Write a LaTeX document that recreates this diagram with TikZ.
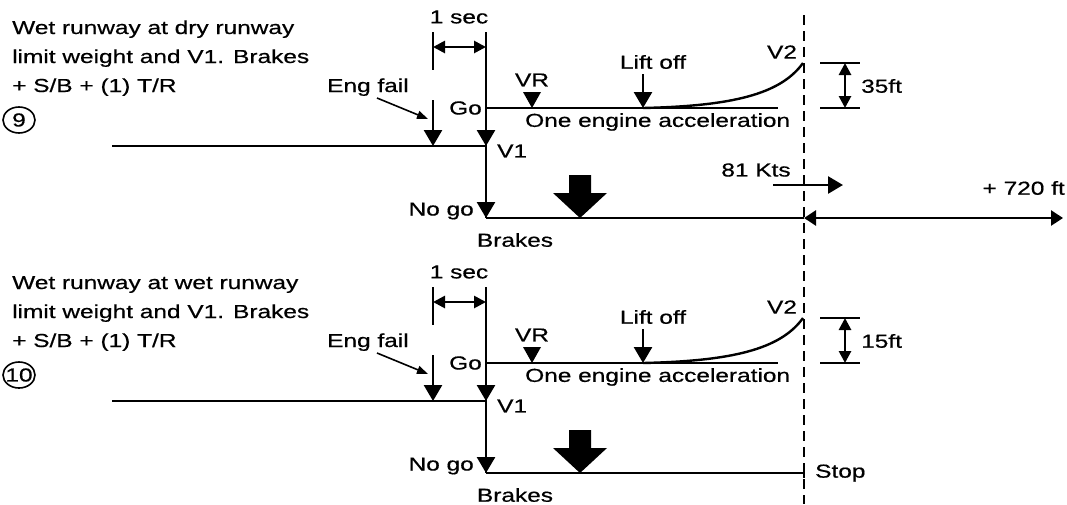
\documentclass[tikz,border=0pt]{standalone}
\usepackage{fontspec}
\setmainfont[FakeStretch=1.3,FakeBold=0.6]{Liberation Sans}
\usetikzlibrary{arrows.meta}
\tikzset{
  line/.style={line width=2.7pt},
  lbl/.style={inner sep=0pt, font=\fontsize{18.8}{29}\selectfont},
  bigtip/.style={-{Triangle[width=18pt,length=16pt]}},
  dimtips/.style={{Triangle[width=12pt,length=12pt]}-{Triangle[width=12pt,length=12pt]}},
  midtip/.style={-{Triangle[width=17pt,length=15pt]}},
  thintip/.style={line width=1.6pt,-{Triangle[width=8pt,length=11pt]}},
}
\newcommand{\chartbase}[3]{%
  % description
  \node[lbl,anchor=base west] (t1) at (12,34) {#1};
  \node[lbl,anchor=base west] (t2) at (12,63) {limit weight and V1. Brakes};
  \node[lbl,anchor=base west] (t3) at (12,92) {+ S/B + (1) T/R};
  \draw[line width=1.6pt] (19,120) ellipse [x radius=16, y radius=13];
  \node[lbl] (num) at (19,120) {#2};
  % main run
  \coordinate (ms) at (112,146);
  \coordinate (v1) at (486,146);
  \coordinate (vtop) at (486,32);
  \coordinate (nogo) at (486,218);
  \draw[line] (ms) -- (v1);
  \draw[line] (vtop) -- (nogo);
  \coordinate (v1a) at (486,124);
  \draw[line,bigtip] (v1a) -- (v1);
  \coordinate (efa) at (433,100);
  \coordinate (ef) at (433,146);
  \draw[line,bigtip] (efa) -- (ef);
  % 1 sec
  \coordinate (st) at (433,32);
  \coordinate (sb) at (433,70);
  \draw[line] (st) -- (sb);
  \coordinate (sl) at (433,47);
  \coordinate (sr) at (486,47);
  \draw[line,dimtips] (sl) -- (sr);
  \node[lbl] (sec) at (459,17) {1 sec};
  % engine failure
  \node[lbl,anchor=base west] (eng) at (327,92) {Eng fail};
  \coordinate (efs) at (377,98);
  \coordinate (efe) at (428,119);
  \draw[thintip] (efs) -- (efe);
  % go
  \coordinate (go) at (486,108);
  \coordinate (goe) at (778,108);
  \draw[line] (go) -- (goe);
  \node[lbl,anchor=east] (golbl) at (482,108) {Go};
  \coordinate (vr) at (532,108);
  \fill (vr) -- ++(-9,-16) -- ++(18,0) -- cycle;
  \node[lbl] (vrl) at (532,80) {VR};
  \coordinate (loa) at (643,74);
  \coordinate (lo) at (643,108);
  \draw[line,bigtip] (loa) -- (lo);
  \node[lbl] (lol) at (653,62) {Lift off};
  \coordinate (v2) at (803,63);
  \draw[line width=2.4pt] (lo) .. controls (730,106) and (780,95) .. (v2);
  \node[lbl] (v2l) at (782,52) {V2};
  \node[lbl,anchor=west] (oea) at (525,122) {One engine acceleration};
  \node[lbl,anchor=west] (v1l) at (497,151) {V1};
  % height
  \coordinate (ht) at (845,63);
  \coordinate (hb) at (845,108);
  \draw[line] ([xshift=-25pt]ht) -- ([xshift=15pt]ht);
  \draw[line] ([xshift=-25pt]hb) -- ([xshift=15pt]hb);
  \draw[line,dimtips] (ht) -- (hb);
  \node[lbl,anchor=west] (htl) at (861,86) {#3};
  % no go
  \coordinate (ngb) at (486,196);
  \draw[line,bigtip] (ngb) -- (nogo);
  \coordinate (stopx) at (804,218);
  \draw[line] (nogo) -- (stopx);
  \node[lbl,anchor=east] (ngl) at (474,211) {No go};
  \node[lbl] (brl) at (515,240) {Brakes};
  \fill (580,218) -- (607,193) -- (591,193) -- (591,175) -- (569,175) -- (569,193) -- (553,193) -- cycle;
}
\begin{document}
\begin{tikzpicture}[x=1pt,y=-1pt]
  \fill[white] (0,0) rectangle (1067,504);
  \useasboundingbox (0,0) rectangle (1067,504);
  % dashed reference line
  \coordinate (dtop) at (804,15);
  \coordinate (dbot) at (804,504);
  \draw[line width=2.8pt,dash pattern=on 10pt off 6pt] (dtop) -- (dbot);
  \begin{scope}[name prefix=a-]
    \chartbase{Wet runway at dry runway}{9}{35ft}
    \node[lbl] (kts) at (756,170) {81 Kts};
    \coordinate (ka) at (773,185);
    \coordinate (kb) at (843,185);
    \draw[line,midtip] (ka) -- (kb);
    \coordinate (far) at (1063,218);
    \draw[line,{Triangle[width=15pt,length=12pt]}-{Triangle[width=15pt,length=12pt]}] (stopx) -- (far);
    \node[lbl,anchor=east] (ft) at (1065,188) {+ 720 ft};
  \end{scope}
  \begin{scope}[shift={(0,255)},name prefix=b-]
    \chartbase{Wet runway at wet runway}{10}{15ft}
    \coordinate (tick) at (804,223);
    \draw[line] (stopx) -- (tick);
    \node[lbl,anchor=west] (stop) at (815,218) {Stop};
  \end{scope}
\end{tikzpicture}
\end{document}
